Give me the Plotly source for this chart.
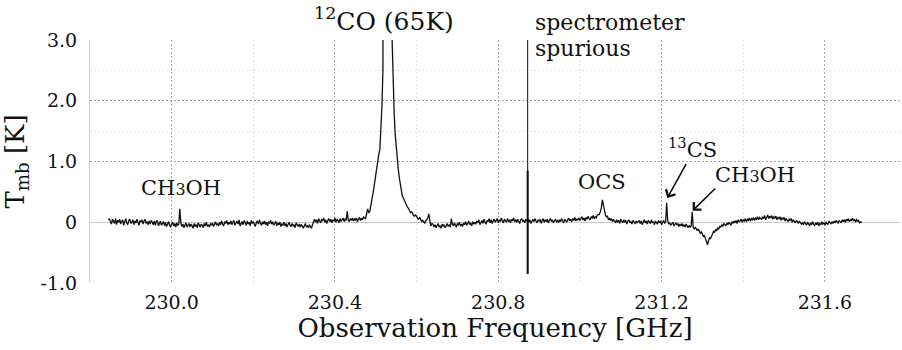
import plotly.graph_objects as go

# ---------------- data ----------------
# spectrum: each row covers 0.1 GHz starting at row_start0 + 0.1*row, channel width 2.5 MHz
row_start0 = 229.845
row_span = 0.1
chan_width = 0.0025

# Tmb [K] per channel
tmb_row00 = [0.04, 0.06, 0.01, -0.03, 0.05, 0.02, -0.02, 0.06, -0.04, 0.03,
             0.00, 0.05, -0.03, 0.02, 0.04, -0.05, 0.01, 0.06, -0.01, -0.04,
             0.03, 0.05, -0.02, 0.00, 0.04, -0.04, 0.02, -0.01, 0.05, 0.01,
             -0.05, 0.03, 0.00, 0.04, -0.03, 0.02, 0.05, -0.02, 0.01, -0.04]
tmb_row01 = [0.02, -0.03, 0.03, 0.00, -0.04, 0.02, -0.05, 0.01, 0.03, -0.06,
             -0.01, 0.02, -0.05, -0.02, 0.01, -0.06, 0.00, -0.07, -0.02, 0.01,
             -0.05, -0.08, -0.03, 0.00, -0.06, -0.02, -0.08, -0.01, -0.05, -0.03,
             0.22, -0.01, -0.07, -0.03, -0.09, -0.04, -0.01, -0.08, -0.05, -0.02]
tmb_row02 = [-0.08, -0.03, -0.06, -0.10, -0.02, -0.07, -0.04, -0.09, -0.01, -0.06,
             -0.08, -0.03, -0.05, -0.09, -0.02, -0.06, 0.00, -0.07, -0.04, -0.08,
             -0.02, -0.05, -0.01, -0.07, -0.03, 0.01, -0.05, -0.02, -0.06, 0.00,
             -0.04, 0.02, -0.03, -0.06, 0.01, -0.02, 0.03, -0.04, 0.00, -0.03]
tmb_row03 = [0.02, -0.04, 0.00, 0.03, -0.05, -0.01, 0.02, -0.03, 0.04, -0.06,
             -0.02, 0.01, -0.04, 0.03, -0.01, -0.05, 0.02, -0.03, 0.00, -0.06,
             0.03, -0.02, 0.01, -0.04, -0.07, 0.00, 0.02, -0.03, 0.04, -0.02,
             -0.05, 0.01, -0.03, 0.02, -0.04, 0.00, -0.06, 0.01, -0.02, 0.03]
tmb_row04 = [-0.03, 0.01, -0.05, -0.02, 0.02, -0.06, -0.01, -0.04, 0.00, -0.07,
             -0.03, -0.05, 0.00, -0.06, -0.02, -0.08, -0.03, 0.00, -0.05, -0.07,
             -0.02, -0.06, -0.04, -0.09, -0.01, -0.05, -0.07, -0.03, -0.08, -0.04,
             -0.06, -0.10, -0.05, -0.02, -0.08, -0.06, -0.09, -0.04, -0.07, -0.10]
tmb_row05 = [-0.04, 0.01, 0.05, 0.00, 0.04, -0.02, 0.06, 0.02, -0.01, 0.05,
             0.03, 0.07, 0.00, 0.04, -0.02, 0.03, 0.06, 0.01, 0.05, -0.01,
             0.04, 0.02, 0.07, 0.00, 0.05, 0.03, -0.01, 0.06, 0.02, 0.04,
             0.07, 0.01, 0.05, 0.03, 0.18, 0.04, 0.01, 0.06, 0.03, 0.07]
tmb_row06 = [0.02, 0.06, 0.03, 0.07, 0.01, 0.05, 0.08, 0.03, 0.06, 0.04,
             0.09, 0.07, 0.06, 0.14, 0.22, 0.16, 0.17, 0.26, 0.34, 0.44,
             0.55, 0.67, 0.80, 0.92, 1.00, 1.12, 1.20, 1.50, 1.90, 2.50,
             3.30, 6.0, 12.0, 30.0, 65.0, 30.0, 14.0, 6.0, 3.0, 2.3]
tmb_row07 = [1.80, 1.45, 1.20, 1.02, 0.88, 0.74, 0.64, 0.52, 0.43, 0.40,
             0.36, 0.30, 0.26, 0.25, 0.23, 0.18, 0.16, 0.17, 0.15, 0.11,
             0.10, 0.12, 0.10, 0.06, 0.05, 0.08, 0.05, 0.01, 0.03, 0.00,
             -0.02, 0.03, 0.04, 0.08, 0.14, 0.02, -0.06, -0.02, -0.03, -0.08]
tmb_row08 = [-0.04, -0.09, -0.05, -0.02, -0.08, -0.06, -0.10, -0.03, -0.07, -0.04,
             -0.09, -0.05, -0.02, -0.07, -0.04, -0.08, 0.06, -0.03, -0.06, -0.01,
             -0.05, -0.08, -0.02, -0.04, 0.00, -0.06, -0.03, -0.07, -0.01, -0.04,
             0.01, -0.05, -0.02, 0.02, -0.04, -0.01, -0.06, 0.01, -0.03, 0.00]
tmb_row09 = [-0.03, 0.02, -0.01, 0.04, -0.04, 0.01, 0.03, -0.02, 0.05, 0.00,
             -0.03, 0.03, 0.01, 0.06, -0.01, 0.04, -0.02, 0.02, 0.05, 0.00,
             0.03, 0.06, -0.01, 0.04, 0.01, 0.07, 0.02, -0.01, 0.05, 0.03,
             0.00, 0.06, 0.02, 0.04, -0.01, 0.05, 0.02, 0.07, 0.01, 0.04]
tmb_row10 = [0.00, 0.05, 0.02, -0.02, 0.04, 0.06, 0.01, 0.03, -0.01, 0.05,
             0.02, 0.06, 0.00, 0.04, -0.02, 0.03, 0.05, 0.01, 0.06, 0.02,
             -0.01, 0.04, 0.02, 0.05, -0.02, 0.03, 0.06, 0.00, 0.04, 0.01,
             0.05, -0.01, 0.03, 0.06, 0.02, 0.04, -0.01, 0.02, 0.05, 0.01]
tmb_row11 = [0.03, -0.01, 0.04, 0.01, 0.06, 0.02, -0.01, 0.05, 0.03, 0.00,
             0.04, 0.07, 0.02, 0.05, 0.01, 0.06, 0.03, 0.08, 0.02, 0.05,
             0.04, 0.07, 0.03, 0.06, 0.09, 0.04, 0.07, 0.02, 0.08, 0.05,
             0.10, 0.06, 0.04, 0.09, 0.07, 0.11, 0.06, 0.09, 0.07, 0.12]
tmb_row12 = [0.12, 0.13, 0.17, 0.24, 0.37, 0.26, 0.18, 0.12, 0.09, 0.10,
             0.04, 0.07, 0.03, 0.06, 0.01, 0.05, 0.02, -0.01, 0.04, 0.00,
             0.03, -0.02, 0.05, 0.01, -0.01, 0.04, 0.00, 0.03, -0.03, 0.02,
             0.04, -0.01, 0.01, -0.03, 0.03, 0.00, -0.02, 0.02, -0.01, 0.01]
tmb_row13 = [0.03, -0.02, 0.02, -0.04, 0.01, 0.04, -0.01, 0.02, -0.03, 0.03,
             0.00, -0.02, 0.04, -0.01, 0.01, -0.04, 0.02, 0.00, -0.03, 0.03,
             -0.01, 0.02, -0.04, 0.00, 0.03, -0.02, 0.01, 0.32, 0.03, -0.03,
             -0.01, -0.05, -0.02, 0.00, -0.06, -0.03, -0.01, -0.05, -0.02, -0.07]
tmb_row14 = [-0.03, -0.06, -0.02, -0.07, -0.04, -0.08, -0.03, -0.06, -0.09, -0.05,
             -0.08, -0.06, 0.17, -0.09, -0.11, -0.08, -0.12, -0.14, -0.11, -0.16,
             -0.18, -0.16, -0.21, -0.23, -0.22, -0.27, -0.31, -0.37, -0.30, -0.26,
             -0.27, -0.21, -0.19, -0.15, -0.17, -0.12, -0.14, -0.09, -0.11, -0.07]
tmb_row15 = [-0.08, -0.04, -0.07, -0.02, -0.05, -0.06, -0.01, -0.04, 0.00, -0.03,
             -0.05, 0.01, -0.02, 0.02, -0.01, 0.03, -0.02, 0.04, 0.01, 0.02,
             0.05, 0.00, 0.04, 0.02, 0.06, 0.01, 0.05, 0.03, 0.07, 0.02,
             0.06, 0.04, 0.08, 0.03, 0.07, 0.05, 0.09, 0.04, 0.08, 0.06]
tmb_row16 = [0.05, 0.09, 0.06, 0.11, 0.04, 0.08, 0.12, 0.06, 0.10, 0.07,
             0.11, 0.05, 0.09, 0.07, 0.10, 0.04, 0.08, 0.06, 0.09, 0.03,
             0.07, 0.05, 0.08, 0.02, 0.06, 0.04, 0.01, 0.05, 0.03, 0.06,
             0.00, 0.04, 0.02, -0.01, 0.03, 0.01, -0.02, 0.02, 0.00, -0.03]
tmb_row17 = [-0.01, -0.04, 0.01, -0.03, -0.05, 0.00, -0.02, -0.06, -0.01, -0.04,
             0.01, -0.03, -0.05, -0.01, -0.04, 0.00, -0.06, -0.02, -0.04, 0.01,
             -0.03, -0.01, -0.05, 0.00, -0.02, -0.04, 0.02, -0.01, -0.03, 0.01,
             -0.02, 0.02, -0.01, 0.03, 0.00, -0.02, 0.03, 0.01, -0.01, 0.04]
tmb_row18 = [0.01, 0.04, 0.00, 0.05, 0.02, 0.06, 0.01, 0.04, 0.03, 0.07,
             0.02, 0.05, 0.00, 0.04, 0.02, 0.03, -0.01, 0.01, -0.01]

tmb_rows = [tmb_row00, tmb_row01, tmb_row02, tmb_row03, tmb_row04, tmb_row05, tmb_row06,
            tmb_row07, tmb_row08, tmb_row09, tmb_row10, tmb_row11, tmb_row12, tmb_row13,
            tmb_row14, tmb_row15, tmb_row16, tmb_row17, tmb_row18]

# spectrometer spurious channel
spur_freq = [230.872, 230.872]
spur_tmb = [-0.85, 0.85]

# axes
x_tickvals = [230.0, 230.4, 230.8, 231.2, 231.6]
x_ticktext = ["230.0", "230.4", "230.8", "231.2", "231.6"]
x_minorvals = [229.8, 230.2, 230.6, 231.0, 231.4]
y_tickvals = [-1.0, 0.0, 1.0, 2.0, 3.0]
y_ticktext = ["-1.0", "0", "1.0", "2.0", "3.0"]
y_minorvals = [1.5, 2.5]

# line labels: text, x, y, yref, font size, x anchor
ch3oh = 'CH<span style="font-size:16px">3</span>OH'
labels = [
    ("<sup>12</sup>CO (65K)", 230.519, 1.085, "paper", 25, "center"),
    ("spectrometer", 230.885, 1.070, "paper", 22, "left"),
    ("spurious", 230.885, 2.86, "y", 22, "left"),
    (ch3oh, 230.024, 0.57, "y", 21, "center"),
    ("OCS", 231.055, 0.66, "y", 21, "center"),
    ("<sup>13</sup>CS", 231.2756, 1.22, "y", 21, "center"),
    (ch3oh, 231.430, 0.77, "y", 21, "center"),
]
arrows = [  # head x, head y, tail x, tail y
    (231.214, 0.40, 231.262, 0.98),
    (231.276, 0.19, 231.335, 0.58),
]

# ---------------- figure ----------------
freqs, tmb = [], []
for r, row in enumerate(tmb_rows):
    for k, v in enumerate(row):
        freqs.append(round(row_start0 + row_span * r + chan_width * k, 5))
        tmb.append(v)

FONT = "DejaVu Serif"

fig = go.Figure()
fig.add_trace(go.Scatter(x=freqs, y=tmb, mode="lines",
                         line=dict(color="#111111", width=1.3), showlegend=False))
fig.add_trace(go.Scatter(x=spur_freq, y=spur_tmb, mode="lines",
                         line=dict(color="#111111", width=2), showlegend=False))

fig.add_shape(type="line", x0=spur_freq[0], x1=spur_freq[0], y0=spur_tmb[0], y1=3.0,
              xref="x", yref="y", line=dict(color="#111111", width=1))

for text, x, y, yref, size, anchor in labels:
    fig.add_annotation(text=text, x=x, y=y, xref="x", yref=yref, showarrow=False,
                       xanchor=anchor, yanchor="middle",
                       font=dict(family=FONT, size=size, color="#111111"))

for hx, hy, tx, ty in arrows:
    fig.add_annotation(text="", x=hx, y=hy, ax=tx, ay=ty, xref="x", yref="y",
                       axref="x", ayref="y", showarrow=True, arrowhead=4,
                       arrowsize=1.3, arrowwidth=1.6, arrowcolor="#111111", standoff=0)

fig.update_layout(
    width=902, height=350,
    margin=dict(l=90, r=2, t=40, b=67),
    paper_bgcolor="white", plot_bgcolor="white",
    font=dict(family=FONT, color="#111111"),
    xaxis=dict(
        range=[229.8, 231.784], tickmode="array", tickvals=x_tickvals, ticktext=x_ticktext,
        showgrid=True, gridcolor="#a8a8a8", griddash="2px,2px", gridwidth=1,
        zeroline=False, showline=False, ticks="",
        tickfont=dict(family=FONT, size=19, color="#111111"), ticklabelstandoff=6,
        minor=dict(tickmode="array", tickvals=x_minorvals, showgrid=True,
                   gridcolor="#e4e4e4", gridwidth=1),
        title=dict(text="Observation Frequency [GHz]", standoff=6,
                   font=dict(family=FONT, size=26, color="#111111")),
    ),
    yaxis=dict(
        range=[-1.0, 3.0], tickmode="array", tickvals=y_tickvals, ticktext=y_ticktext,
        showgrid=True, gridcolor="#a8a8a8", griddash="2px,2px", gridwidth=1,
        zeroline=True, zerolinecolor="#c8c8c8", zerolinewidth=1,
        showline=True, linecolor="#d0d0d0", linewidth=1, ticks="",
        tickfont=dict(family=FONT, size=19, color="#111111"), ticklabelstandoff=8,
        minor=dict(tickmode="array", tickvals=y_minorvals, showgrid=True,
                   gridcolor="#e4e4e4", gridwidth=1),
        title=dict(text="T<sub>mb</sub> [K]", standoff=10,
                   font=dict(family=FONT, size=26, color="#111111")),
    ),
)

fig.write_html("out.html")
